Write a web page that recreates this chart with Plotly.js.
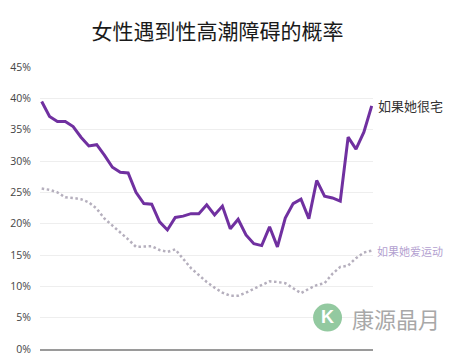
<!DOCTYPE html>
<html>
<head>
<meta charset="utf-8">
<script src="https://cdn.plot.ly/plotly-3.0.1.min.js"></script>
<style>html,body{margin:0;padding:0;background:#fff;}#chart{width:456px;height:356px;}</style>
</head>
<body>
<div id="chart"></div>
<script>
// 43 evenly spaced observations (x axis has no labels in the original)
const xIndex = Array.from({length: 43}, (_, i) => i);

// "如果她很宅" (purple solid line), percent
const homeValues = [39.5, 37.1, 36.3, 36.3, 35.5, 33.8, 32.4, 32.6, 30.9, 29.0,
  28.2, 28.1, 25.0, 23.2, 23.1, 20.3, 19.0, 21.0, 21.2, 21.6,
  21.6, 23.0, 21.4, 22.8, 19.2, 20.7, 18.2, 16.8, 16.5, 19.5,
  16.3, 20.9, 23.2, 23.9, 20.8, 26.9, 24.4, 24.1, 23.6, 33.8,
  31.9, 34.6, 38.8];

// "如果她爱运动" (grey dotted line), percent
const sportValues = [25.6, 25.4, 25.0, 24.2, 24.1, 23.9, 23.4, 22.4, 20.8, 19.7,
  18.7, 17.5, 16.3, 16.3, 16.4, 15.8, 15.5, 15.9, 14.4, 12.9,
  11.8, 10.7, 9.8, 9.0, 8.5, 8.5, 9.0, 9.6, 10.2, 10.8,
  10.7, 10.5, 9.7, 8.9, 9.6, 10.2, 10.5, 12.0, 13.1, 13.3,
  14.5, 15.4, 15.7];

const seriesNames = ['如果她很宅', '如果她爱运动'];
const titleText = '女性遇到性高潮障碍的概率';
const yTickVals = [0, 5, 10, 15, 20, 25, 30, 35, 40, 45];
const yTickText = ['0%', '5%', '10%', '15%', '20%', '25%', '30%', '35%', '40%', '45%'];
const watermarkText = '康源晶月';

const cjk = '"Noto Sans CJK SC", "Noto Sans", sans-serif';

const traces = [
  {
    x: xIndex, y: sportValues, type: 'scatter', mode: 'lines', name: seriesNames[1],
    line: {color: '#b5afbd', width: 2.5, dash: '2.5px,2.6px'},
    hoverinfo: 'skip'
  },
  {
    x: xIndex, y: homeValues, type: 'scatter', mode: 'lines', name: seriesNames[0],
    line: {color: '#7030a0', width: 3},
    hoverinfo: 'skip'
  }
];

const layout = {
  width: 456, height: 356,
  margin: {l: 40, r: 83, t: 67, b: 7, pad: 0},
  paper_bgcolor: '#ffffff', plot_bgcolor: '#ffffff',
  showlegend: false,
  title: {
    text: titleText, xref: 'container', x: 0.477, xanchor: 'center',
    yref: 'container', y: 0.912, yanchor: 'middle',
    font: {family: cjk, size: 21, color: '#1a1a1a'}
  },
  xaxis: {
    range: [-0.216, 42.165], showgrid: false, zeroline: false,
    showticklabels: false, ticks: '',
    showline: true, linecolor: '#9a9a9a', linewidth: 1.5
  },
  yaxis: {
    range: [0, 45], tickvals: yTickVals, ticktext: yTickText,
    showgrid: true, gridcolor: '#eeeeee', gridwidth: 1,
    zeroline: false, showline: false, ticks: '',
    ticklabelstandoff: 8, ticklabeloverflow: 'allow',
    tickfont: {family: '"Open Sans", "DejaVu Sans", sans-serif', size: 10.5, color: '#444444'}
  },
  annotations: [
    {
      x: xIndex[xIndex.length - 1], y: homeValues[homeValues.length - 1],
      xref: 'x', yref: 'y', xanchor: 'left', yanchor: 'middle', xshift: 4,
      text: seriesNames[0], showarrow: false,
      font: {family: cjk, size: 13, color: '#333333'}
    },
    {
      x: xIndex[xIndex.length - 1], y: sportValues[sportValues.length - 1],
      xref: 'x', yref: 'y', xanchor: 'left', yanchor: 'middle', xshift: 3,
      text: seriesNames[1], showarrow: false,
      font: {family: cjk, size: 11, color: '#b39fd0'}
    },
    {
      x: 0.93, y: 0.11, xref: 'paper', yref: 'paper', xanchor: 'left', yanchor: 'middle',
      text: watermarkText, showarrow: false,
      font: {family: cjk, size: 22, color: '#a8a8a8'}
    },
    {
      x: 0.8635, y: 0.112, xref: 'paper', yref: 'paper', xanchor: 'center', yanchor: 'middle',
      text: '<b>K</b>', showarrow: false,
      font: {family: 'Liberation Sans, sans-serif', size: 18, color: '#ffffff'}
    }
  ],
  shapes: [
    {
      type: 'circle', xref: 'paper', yref: 'paper',
      x0: 0.820, x1: 0.907, y0: 0.062, y1: 0.161,
      fillcolor: '#93c9a0', line: {width: 0}, layer: 'above'
    }
  ]
};

Plotly.newPlot('chart', traces, layout, {displayModeBar: false, staticPlot: true});
</script>
</body>
</html>
